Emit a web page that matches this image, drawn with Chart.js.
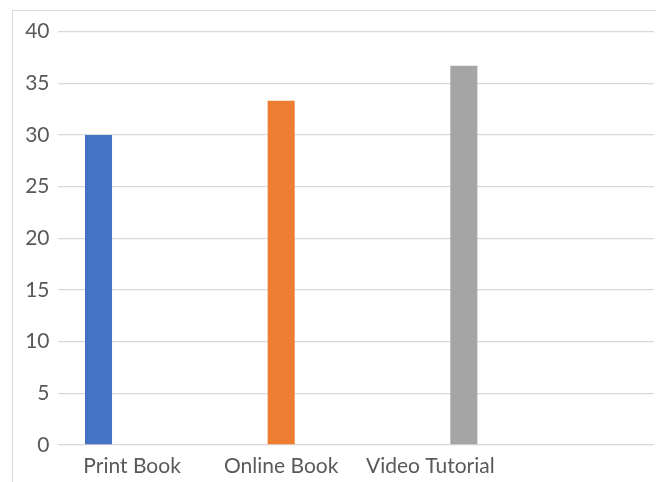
<!DOCTYPE html>
<html>
<head>
<meta charset="utf-8">
<script src="https://cdn.jsdelivr.net/npm/chart.js@4"></script>
<style>
  html, body { margin: 0; padding: 0; background: #fff; overflow: hidden; }
  #box { position: absolute; left: 12px; top: 10px; width: 644px; height: 471px;
         border: 1px solid #d9d9d9; }
  #box canvas { display: block; }
</style>
</head>
<body>
<div id="box"><canvas id="chart" width="644" height="471"></canvas></div>
<script>
// categories on the x axis (the fourth slot is empty in the original)
const categories = ['Print Book', 'Online Book', 'Video Tutorial', ''];

// one series per medium, each only filled in its own category
const printBook     = [30, null, null, null];
const onlineBook    = [null, 33.3, null, null];
const videoTutorial = [null, null, 36.7, null];

const yMin = 0, yMax = 40, yStep = 5;

const textColor = '#595959';
const gridColor = '#d9d9d9';

function series(label, data, color)
{
  return {
    label: label,
    data: data,
    backgroundColor: color,
    borderWidth: 0,
    categoryPercentage: 0.675,
    barPercentage: 0.806
  };
}

new Chart(document.getElementById('chart'), {
  type: 'bar',
  data: {
    labels: categories,
    datasets: [
      series('Print Book', printBook, '#4472C4'),
      series('Online Book', onlineBook, '#ED7D31'),
      series('Video Tutorial', videoTutorial, '#A5A5A5')
    ]
  },
  options: {
    responsive: false,
    animation: false,
    layout: { padding: { top: 20, right: 3, bottom: 0, left: 0 } },
    plugins: {
      legend: { display: false },
      tooltip: { enabled: false }
    },
    scales: {
      x: {
        grid: { display: false },
        border: { display: false },
        ticks: {
          color: textColor,
          font: { family: 'Lato', size: 21 },
          padding: 1,
          maxRotation: 0,
          autoSkip: false
        },
        afterFit: (axis) => { axis.height = 37; }
      },
      y: {
        min: yMin,
        max: yMax,
        border: { display: false },
        grid: { color: gridColor, lineWidth: 1.3, drawTicks: false },
        ticks: {
          stepSize: yStep,
          color: textColor,
          font: { family: 'Lato', size: 21 },
          padding: 8
        },
        afterFit: (axis) => { axis.width = 44.5; }
      }
    }
  }
});
</script>
</body>
</html>
